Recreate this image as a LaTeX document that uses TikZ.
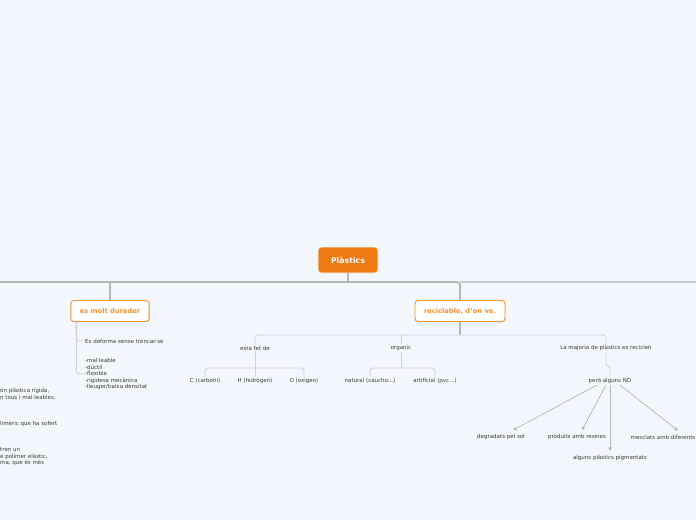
\documentclass[tikz,border=0pt]{standalone}
\usepackage{fontspec}
\setmainfont{DejaVu Sans}
\usepackage{tikz}
\usetikzlibrary{
  arrows.meta,
  positioning,
  shadows
}
\definecolor{mapbg}{HTML}{F3F6FD}
\definecolor{rootorange}{HTML}{EE7A12}
\definecolor{branchorange}{HTML}{F2922F}
\definecolor{trunkgray}{HTML}{B3B5B9}
\definecolor{linkgray}{HTML}{CDD1D9}
\definecolor{labelgray}{HTML}{3A3A3A}
\tikzstyle{rootbox} = [
  rectangle, rounded corners=3pt, fill=rootorange, draw=white, line width=0.8pt,
  text=white, font=\fontsize{7.8}{9}\selectfont\bfseries,
  minimum width=60pt, minimum height=26pt
]
\tikzstyle{branchbox} = [
  rectangle, rounded corners=3pt, fill=white, draw=branchorange, line width=0.9pt,
  text=branchorange, font=\fontsize{6.7}{8}\selectfont\bfseries,
  minimum height=21pt, inner xsep=9pt,
  drop shadow={shadow xshift=0.6pt, shadow yshift=-0.8pt, opacity=0.2}
]
\tikzstyle{leaf} = [font=\fontsize{5.5}{6.5}\selectfont, text=labelgray, inner sep=1pt]
\tikzstyle{trunk} = [draw=trunkgray, line width=1.6pt]
\tikzstyle{link} = [draw=linkgray, line width=0.9pt, rounded corners=3pt]
\tikzstyle{arrowlink} = [draw=trunkgray, line width=0.7pt, -{Stealth[length=4pt,width=4pt]}]

\begin{document}
\begin{tikzpicture}[x=1pt, y=-1pt]

\useasboundingbox (0,0) rectangle (696,520);
\fill[mapbg] (0,0) rectangle (696,520);

% --- Nodes ---
\node[rootbox] (root) at (348,260) {Plàstics};
\node[branchbox] (durader) at (110,311) {es molt durader};
\node[branchbox] (reciclable) at (460,311) {reciclable, d'on ve.};

\node[leaf, anchor=west] (deforma) at (84,341) {Es deforma sense trencar-se};
\node[leaf, anchor=west, align=left] (propietats) at (84,374)
  {-mal·leable\\-dúctil\\-flexible\\-rigidesa mecànica\\-lleuger/baixa densitat};

\node[leaf] (estafet) at (255,348) {esta fet de};
\node[leaf] (organic) at (401,348) {organic};
\node[leaf] (majoria) at (606,348) {La majoria de plàstics es reciclen};

\node[leaf, below=26pt of estafet] (hidrogen) {H (hidrògen)};
\node[leaf] (carboni) at (205,381) {C (carboni)};
\node[leaf] (oxigen) at (304,381) {O (oxigen)};
\node[leaf] (natural) at (370,381) {natural (caucho...)};
\node[leaf] (artificial) at (435,381) {artificial (pvc...)};
\node[leaf] (pero) at (610,381) {però alguns NO};

\node[leaf] (degradats) at (501,437) {degradats pel sol};
\node[leaf] (produits) at (577,437) {produits amb resines};
\node[leaf] (mesclats) at (663,437) {mesclats amb diferents};
\node[leaf, below=69pt of pero] (pigmentats) {alguns plàstics pigmentats};

% cut off at the left edge
\node[leaf, anchor=west, align=left] (rigida) at (-1,394) {ón plàstica rígida,\\n tous i mal·leables,};
\node[leaf, anchor=west] (sofert) at (-1,424) {limèric que ha sofert};
\node[leaf, anchor=west, align=left] (elastic) at (-1,457) {tren un\\e polímer elàstic,\\ma, que és més};

% --- Trunk ---
\coordinate (hub) at (348,282);
\coordinate (leftend) at (0,282);
\coordinate (rightend) at (696,282);
\draw[trunk] (root.south) -- (hub);
\draw[trunk, rounded corners=3pt] (leftend) -| (reciclable.north);
\draw[trunk] (durader.north) -- (durader.north |- hub);
\draw[trunk, draw=linkgray!70!trunkgray, line width=1.2pt] (reciclable.north |- hub) -- (rightend);

% --- Links ---
\draw[link] ([xshift=6pt]durader.south west) |- (deforma.west);
\draw[link] ([xshift=6pt]durader.south west) |- (propietats.west);

\coordinate (rbus) at (460,335);
\draw[trunk] (reciclable.south) -- (rbus);
\draw[link] (rbus) -| (estafet.north);
\draw[link] (rbus) -| (majoria.north);
\draw[link] (organic.north |- rbus) -- (organic.north);

\coordinate (ebus) at (255,368);
\draw[link] (estafet.south) -- (hidrogen.north);
\draw[link] (ebus) -| (carboni.north);
\draw[link] (ebus) -| (oxigen.north);

\coordinate (obus) at (401,368);
\draw[link] (organic.south) -- (obus);
\draw[link] (obus) -| (natural.north);
\draw[link] (obus) -| (artificial.north);

\draw[link, rounded corners=2pt] (majoria.south) -- ++(0,14) -| (pero.north);

% --- Arrows ---
\draw[arrowlink] ([xshift=-13pt]pero.south) -- ([xshift=12pt, yshift=3pt]degradats.north);
\draw[arrowlink] ([xshift=-4pt]pero.south) -- ([xshift=5pt, yshift=3pt]produits.north);
\draw[arrowlink] (pero.south) -- ([yshift=3pt]pigmentats.north);
\draw[arrowlink] ([xshift=10pt]pero.south) -- ([xshift=15pt, yshift=3pt]mesclats.north);

\end{tikzpicture}
\end{document}
